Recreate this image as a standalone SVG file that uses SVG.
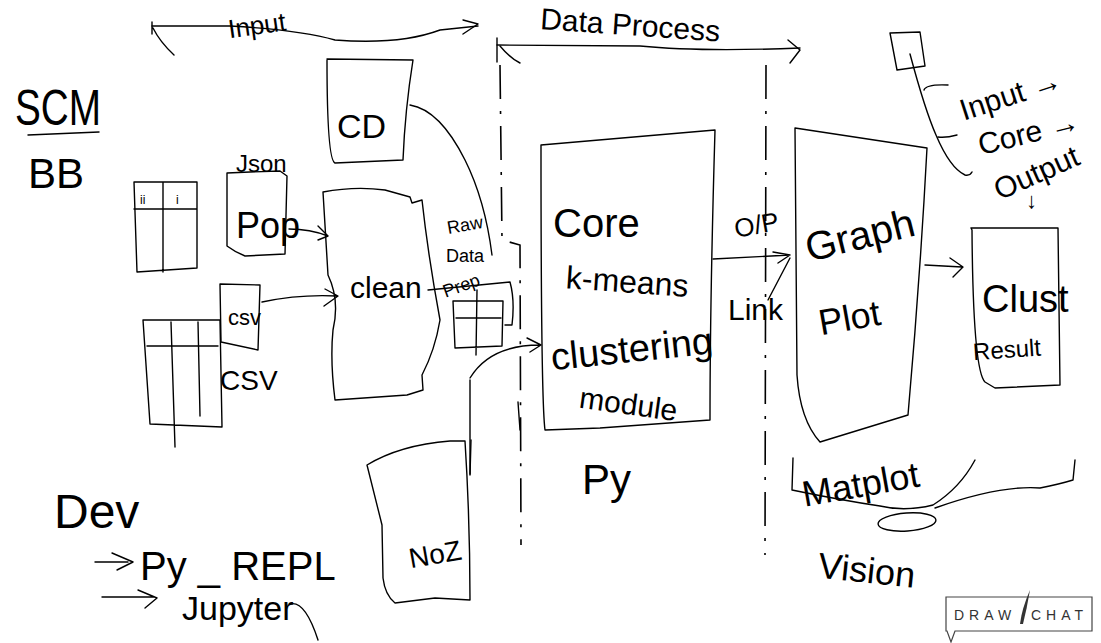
<svg xmlns="http://www.w3.org/2000/svg" width="1101" height="643" viewBox="0 0 1101 643">
<style>
.s{fill:none;stroke:#000;stroke-width:1.4;stroke-linecap:round;stroke-linejoin:round}
.d{fill:none;stroke:#000;stroke-width:1.6;stroke-dasharray:34 12 3 12}
.t{font-family:"Liberation Sans","DejaVu Sans",sans-serif;fill:#000}
.logo{font-family:"Liberation Sans",sans-serif;fill:#333;font-size:14px;letter-spacing:5px}
</style>
<rect width="1101" height="643" fill="#fff"/>

<g id="connectors">
  <path class="s" d="M152,26 L230,26 Q300,30 335,40 Q400,45 440,30 L478,26"/>
  <path class="s" d="M152,22 L152,34 M153,28 Q160,42 174,55 M463,20 L478,24 L463,34"/>
  <path class="s" d="M497,45 L640,46 Q700,52 800,48"/>
  <path class="s" d="M497,38 L497,62 M500,46 Q510,58 520,63 M788,40 L800,50 L790,63"/>
  <path class="d" d="M500,65 L502,240 L520,245 L521,545"/>
  <path class="d" d="M766,65 L765,555"/>
  <path class="s" d="M410,105 Q440,110 465,160 Q485,200 492,255"/>
  <path class="s" d="M289,229 Q310,229 328,236 M318,226 L328,236 L318,240"/>
  <path class="s" d="M262,302 Q300,294 337,296 M325,289 L338,296 L324,306"/>
  <path class="s" d="M428,290 L510,282 Q515,300 512,325 L505,325"/>
  <path class="s" d="M470,378 Q490,345 540,345 M527,338 L541,345 L530,352"/>
  <path class="s" d="M470,380 L470,474 M518,402 L520,430"/>
  <path class="s" d="M713,259 L790,255 M773,252 L790,255 L778,263 M790,258 L768,300"/>
  <path class="s" d="M925,265 L962,267 M950,258 L963,267 L953,277"/>
  <path class="s" d="M910,54 Q925,110 936,135 Q950,168 965,175 Q970,176 972,172"/>
  <path class="s" d="M924,90 Q926,84 948,85 M938,137 Q946,138 957,135"/>
  <path class="s" d="M793,458 L792,490 Q840,500 880,506 Q905,512 933,505 Q960,488 975,460 M935,508 Q1000,485 1040,488 Q1060,484 1073,480 L1075,460"/>
  <ellipse class="s" cx="907" cy="522" rx="29" ry="9" transform="rotate(-4 907 522)"/>
  <path class="s" d="M95,562 L128,562 M112,553 L133,562 L117,570 M102,597 L155,597 M138,590 L157,598 L145,608"/>
  <path class="s" d="M290,604 Q305,600 318,640"/>
</g>

<g id="scm">
  <text class="t" x="15" y="125" font-size="50" textLength="86" lengthAdjust="spacingAndGlyphs">SCM</text>
  <path class="s" d="M28,135 L99,132"/>
  <text class="t" x="28" y="188" font-size="42">BB</text>
</g>

<g id="input-label"><text class="t" x="228" y="34" font-size="26" transform="rotate(-8 260 25)">Input</text></g>
<g id="process-label"><text class="t" x="540" y="38" font-size="30" transform="rotate(4 670 30)">Data Process</text></g>

<g id="cd">
  <path class="s" d="M327,59 L413,60 Q405,110 403,160 L335,163 Q327,160 327,60"/>
  <text class="t" x="337" y="138" font-size="34">CD</text>
</g>

<g id="table1">
  <path class="s" d="M134,182 L197,182 L197,268 L137,272 Z M134,209 L197,209 M163,183 L163,272"/>
  <text class="t" x="140" y="204" font-size="12">ii</text>
  <text class="t" x="176" y="204" font-size="12">i</text>
</g>

<g id="json">
  <path class="s" d="M227,173 L227,246 Q235,252 245,256 L285,254 L287,176 L280,171 L250,172 Z"/>
  <text class="t" x="236" y="172" font-size="24">Json</text>
  <text class="t" x="236" y="238" font-size="36">Pop</text>
</g>

<g id="csvdoc">
  <path class="s" d="M220,284 L260,285 L258,350 L221,342 Z"/>
  <text class="t" x="228" y="325" font-size="22">csv</text>
</g>

<g id="table2">
  <path class="s" d="M143,320 L220,320 L222,427 L150,424 Z M147,346 L218,346 M171,322 L175,447 M198,322 L200,416"/>
  <text class="t" x="220" y="390" font-size="28">CSV</text>
</g>

<g id="clean">
  <path class="s" d="M323,192 Q355,186 385,190 L410,197 L412,203 L422,200 Q428,255 440,320 Q435,350 422,375 L423,390 L407,395 L335,400 Q330,360 333,330 Q340,300 328,275 L323,192 Z"/>
  <text class="t" x="350" y="298" font-size="30">clean</text>
</g>

<g id="prep">
  <text class="t" x="447" y="230" font-size="18" transform="rotate(-10 470 225)">Raw</text>
  <text class="t" x="446" y="262" font-size="18">Data</text>
  <text class="t" x="442" y="292" font-size="18" transform="rotate(-20 460 285)">Prep</text>
  <path class="s" d="M453,301 L503,301 L502,346 L455,348 Z M456,318 L501,318 M477,290 L476,355"/>
</g>

<g id="core">
  <path class="s" d="M541,145 L715,130 Q710,300 710,420 L600,428 L545,430 Q541,400 541,145 Z"/>
  <text class="t" x="553" y="237" font-size="40">Core</text>
  <text class="t" x="566" y="292" font-size="32" transform="rotate(4 620 280)">k-means</text>
  <text class="t" x="550" y="362" font-size="38" transform="rotate(-6 630 345)">clustering</text>
  <text class="t" x="580" y="416" font-size="30" transform="rotate(8 640 400)">module</text>
</g>

<g id="py"><text class="t" x="582" y="494" font-size="42">Py</text></g>

<g id="op">
  <text class="t" x="734" y="235" font-size="26" transform="rotate(-10 750 225)">O/P</text>
  <text class="t" x="728" y="320" font-size="30">Link</text>
</g>

<g id="graph">
  <path class="s" d="M795,128 L927,148 Q920,280 908,415 L820,442 Q800,420 797,375 Z"/>
  <text class="t" x="804" y="250" font-size="40" transform="rotate(-14 855 235)">Graph</text>
  <text class="t" x="818" y="330" font-size="36" transform="rotate(-10 850 315)">Plot</text>
</g>

<g id="clust">
  <path class="s" d="M971,228 L1058,228 L1060,385 L995,388 L985,382 Q973,370 972,230 Z"/>
  <text class="t" x="982" y="312" font-size="38">Clust</text>
  <text class="t" x="973" y="357" font-size="24" transform="rotate(-4 1020 350)">Result</text>
</g>

<g id="legend">
  <path class="s" d="M890,33 L920,32 L925,66 L897,70 Z"/>
  <text class="t" x="956" y="108" font-size="30" transform="rotate(-18 1000 90)">Input →</text>
  <text class="t" x="976" y="145" font-size="30" transform="rotate(-14 1020 130)">Core →</text>
  <text class="t" x="988" y="183" font-size="30" transform="rotate(-24 1035 165)">Output</text>
  <text class="t" x="1026" y="208" font-size="22">↓</text>
</g>

<g id="matplot"><text class="t" x="800" y="495" font-size="36" transform="rotate(-10 870 475)">Matplot</text></g>
<g id="vision"><text class="t" x="818" y="582" font-size="36" transform="rotate(6 860 570)">Vision</text></g>

<g id="dev">
  <text class="t" x="54" y="528" font-size="48">Dev</text>
  <text class="t" x="140" y="580" font-size="40">Py _ REPL</text>
  <text class="t" x="182" y="620" font-size="34">Jupyter</text>
</g>

<g id="noz">
  <path class="s" d="M367,465 Q400,445 450,441 L465,441 Q470,520 470,600 L435,598 L395,603 Q385,595 383,578 L382,525 Z"/>
  <text class="t" x="408" y="563" font-size="28" transform="rotate(-10 440 550)">NoZ</text>
  <path class="s" d="M471,440 L470,475"/>
</g>

<g id="logo">
  <path d="M946,597 L1092,597 L1092,631 L955,631 L951,642 L947,631 L946,631 Z" fill="none" stroke="#444" stroke-width="1.2"/>
  <text class="logo" x="954" y="620">DRAW</text>
  <text class="logo" x="1031" y="620">CHAT</text>
  <path d="M1020,624 Q1022,608 1030,590 Q1027,608 1023,624 Z" fill="#333"/>
</g>
</svg>
